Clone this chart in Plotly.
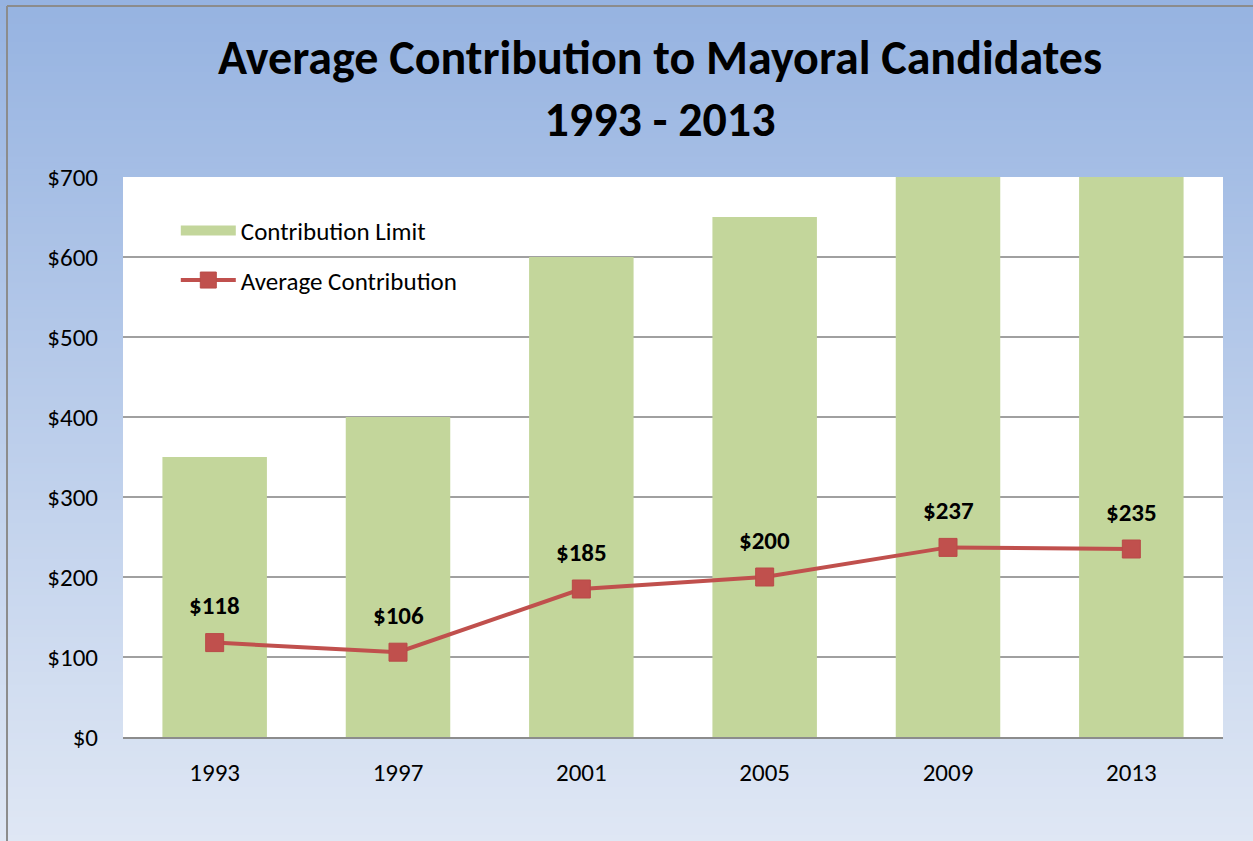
import plotly.graph_objects as go

years = ["1993", "1997", "2001", "2005", "2009", "2013"]
limit = [350, 400, 600, 650, 700, 700]
avg = [118, 106, 185, 200, 237, 235]
avg_labels = ["$118", "$106", "$185", "$200", "$237", "$235"]
y_ticks = [0, 100, 200, 300, 400, 500, 600, 700]
y_tick_labels = ["$0", "$100", "$200", "$300", "$400", "$500", "$600", "$700"]

W, H = 1253, 841
ML, MR, MT, MB = 123, 30, 177, 104
PW, PH = W - ML - MR, H - MT - MB
FONT = "Calibri, Carlito, Lato, sans-serif"
GREEN = "#C3D69B"
RED = "#C0504D"

fig = go.Figure()
fig.add_trace(go.Bar(
    x=years, y=limit, name="Contribution Limit",
    marker=dict(color=GREEN, line=dict(width=0)),
    showlegend=False,
))
# legend entry for bars (wide swatch)
fig.add_trace(go.Scatter(
    x=[None], y=[None], name="Contribution Limit", mode="lines",
    line=dict(color=GREEN, width=15), legendgroup="a",
))
fig.add_trace(go.Scatter(
    x=years, y=avg, name="Average Contribution", mode="lines+markers",
    line=dict(color=RED, width=4),
    marker=dict(symbol="square", size=18, color=RED,
                line=dict(color="#B94B48", width=1)),
    legendgroup="b",
))

for i, (yv, lab) in enumerate(zip(avg, avg_labels)):
    fig.add_annotation(x=i, y=yv, text="<b>%s</b>" % lab, showarrow=False,
                       yshift=37, font=dict(size=25, color="black", family=FONT))

# gradient background via stripes
shapes = []
N = 140
top = (150, 179, 225)
bot = (223, 231, 244)
x0p = -ML / PW
x1p = 1 + MR / PW
for i in range(N):
    t = (i + 0.5) / N
    c = tuple(round(top[k] + (bot[k] - top[k]) * t) for k in range(3))
    py0 = i * H / N
    py1 = (i + 1) * H / N + 1
    y_top = 1 - (py0 - MT) / PH
    y_bot = 1 - (py1 - MT) / PH
    shapes.append(dict(type="rect", xref="paper", yref="paper", x0=x0p, x1=x1p,
                       y0=y_bot, y1=y_top, fillcolor="rgb(%d,%d,%d)" % c,
                       line=dict(width=0), layer="below"))
# white plot area
shapes.append(dict(type="rect", xref="paper", yref="paper", x0=0, x1=1, y0=0, y1=1,
                   fillcolor="white", line=dict(width=0), layer="below"))
# chart border (left & top)
bx = (7 - ML) / PW
by = 1 - (6 - MT) / PH
shapes.append(dict(type="line", xref="paper", yref="paper", x0=bx, x1=x1p + 0.01,
                   y0=by, y1=by, line=dict(color="#8C8C8C", width=2), layer="above"))
shapes.append(dict(type="line", xref="paper", yref="paper", x0=bx, x1=bx,
                   y0=by, y1=-MB / PH - 0.01, line=dict(color="#8C8C8C", width=2), layer="above"))

fig.update_layout(
    width=W, height=H,
    margin=dict(l=ML, r=MR, t=MT, b=MB, pad=0),
    paper_bgcolor="white", plot_bgcolor="white",
    font=dict(family=FONT, color="black"),
    title=dict(text="<b>Average Contribution to Mayoral Candidates<br>1993 - 2013</b>",
               x=660 / W, xanchor="center", y=1 - 74 / H, yanchor="middle",
               font=dict(size=48, family=FONT, color="black")),
    bargap=0.43,
    showlegend=True,
    legend=dict(x=0.048, y=0.945, xanchor="left", yanchor="top",
                bgcolor="rgba(0,0,0,0)", font=dict(size=25, family=FONT),
                tracegroupgap=14, itemwidth=55),
    shapes=shapes,
    xaxis=dict(type="category", range=[-0.5, 5.5], showgrid=False, showline=True,
               linecolor="#8C8C8C", linewidth=2, ticks="",
               tickfont=dict(size=25, family=FONT), ticklabelstandoff=12,
               fixedrange=True),
    yaxis=dict(range=[0, 700], tickvals=y_ticks, ticktext=y_tick_labels,
               showgrid=True, gridcolor="#A0A0A0", gridwidth=1.5,
               showline=False, zeroline=False, ticks="",
               tickfont=dict(size=25, family=FONT), ticklabelstandoff=24),
)

fig.write_html("out.html", config={"displayModeBar": False},
               post_script="document.body.style.margin='0';document.body.style.overflow='hidden';")
